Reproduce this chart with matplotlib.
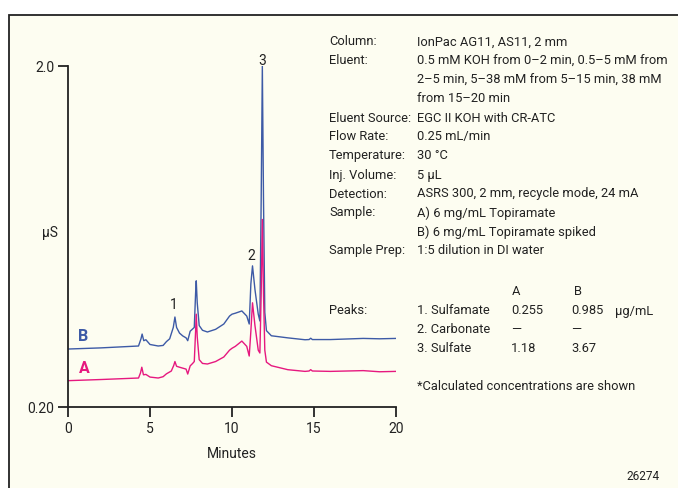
import matplotlib.pyplot as plt
from matplotlib.patches import Rectangle

# === Данные хроматограммы (минуты, мкСм) ===
t_b = [0, 2, 4.3, 4.45, 4.52, 4.62, 4.75, 5.0, 5.5, 5.8, 6.0, 6.2, 6.42, 6.52, 6.62,
       6.8, 7.0, 7.2, 7.3, 7.45, 7.6, 7.7, 7.78, 7.82, 7.88, 8.0, 8.2, 8.5, 9.0, 9.5,
       9.85, 10.0, 10.2, 10.6, 10.9, 11.05, 11.15, 11.25, 11.4, 11.6, 11.7, 11.78,
       11.85, 11.92, 12.0, 12.1, 12.4, 13.4, 14.45, 14.7, 14.8, 14.9, 16, 18, 19, 20]
y_b = [0.506, 0.512, 0.522, 0.56, 0.585, 0.55, 0.555, 0.530, 0.522, 0.525, 0.545, 0.56,
       0.62, 0.675, 0.62, 0.59, 0.575, 0.565, 0.55, 0.60, 0.612, 0.62, 0.80, 0.866, 0.75,
       0.63, 0.605, 0.596, 0.61, 0.638, 0.68, 0.69, 0.695, 0.707, 0.68, 0.638, 0.85,
       0.945, 0.82, 0.69, 0.654, 1.3, 2.0, 1.3, 0.70, 0.603, 0.576, 0.565, 0.555,
       0.556, 0.563, 0.556, 0.556, 0.562, 0.560, 0.562]

t_a = [0, 2, 4.3, 4.42, 4.5, 4.6, 4.75, 5.0, 5.5, 5.8, 6.0, 6.3, 6.45, 6.52, 6.62, 6.8,
       7.0, 7.2, 7.3, 7.45, 7.6, 7.7, 7.78, 7.82, 7.88, 8.0, 8.2, 8.5, 9.0, 9.5, 9.85,
       10.0, 10.2, 10.6, 10.9, 11.05, 11.15, 11.25, 11.4, 11.6, 11.7, 11.78, 11.85,
       11.92, 12.0, 12.1, 12.4, 13.4, 14.45, 14.7, 14.8, 14.9, 16, 18, 19, 20]
y_a = [0.339, 0.345, 0.353, 0.38, 0.41, 0.37, 0.372, 0.358, 0.353, 0.36, 0.375, 0.39,
       0.42, 0.44, 0.415, 0.41, 0.405, 0.40, 0.374, 0.417, 0.43, 0.44, 0.60, 0.69, 0.57,
       0.45, 0.43, 0.427, 0.44, 0.464, 0.50, 0.51, 0.52, 0.548, 0.52, 0.469, 0.60,
       0.75, 0.63, 0.50, 0.485, 0.80, 1.19, 0.80, 0.50, 0.437, 0.418, 0.397, 0.388,
       0.39, 0.397, 0.39, 0.388, 0.392, 0.386, 0.388]

peak_labels = ['1', '2', '3']
peak_x = [6.46, 11.16, 11.83]
peak_y = [0.744, 1.00, 2.03]

cond_labels = ['Column:', 'Eluent:', '', '', 'Eluent Source:', 'Flow Rate:', 'Temperature:',
               'Inj. Volume:', 'Detection:', 'Sample:', '', 'Sample Prep:']
cond_values = ['IonPac AG11, AS11, 2 mm',
               '0.5 mM KOH from 0\u20132 min, 0.5\u20135 mM from',
               '2\u20135 min, 5\u201338 mM from 5\u201315 min, 38 mM',
               'from 15\u201320 min',
               'EGC II KOH with CR-ATC',
               '0.25 mL/min',
               '30 \u00b0C',
               '5 \u00b5L',
               'ASRS 300, 2 mm, recycle mode, 24 mA',
               'A) 6 mg/mL Topiramate',
               'B) 6 mg/mL Topiramate spiked',
               '1:5 dilution in DI water']

peak_names = ['1. Sulfamate', '2. Carbonate', '3. Sulfate']
conc_a = ['0.255', '\u2014', '1.18']
conc_b = ['0.985', '\u2014', '3.67']

blue = '#3d5aa6'
pink = '#e6187f'
ink = '#222222'
W, H = 678, 489

plt.rcParams['font.family'] = ['Roboto', 'DejaVu Sans']
plt.rcParams['font.size'] = 9.3

fig = plt.figure(figsize=(W / 100, H / 100), dpi=100, facecolor='white')
# рамка с кремовым фоном
fig.add_artist(Rectangle((9 / W, -0.1), 1.2, 1.1 - 16 / H, transform=fig.transFigure,
                         facecolor='#fdfdf1', edgecolor=ink, linewidth=1.3, zorder=0))


def fx(px):
    return px / W


def fy(py):
    return 1 - py / H


ax = fig.add_axes([fx(68), fy(408), (396 - 68) / W, (408 - 67) / H])
ax.set_facecolor('none')
ax.plot(t_b, y_b, color=blue, lw=1.0)
ax.plot(t_a, y_a, color=pink, lw=1.0)
ax.set_xlim(0, 20)
ax.set_ylim(0.2, 2.0)
ax.set_xticks([0, 5, 10, 15, 20])
ax.set_yticks([0.2, 2.0])
ax.set_yticklabels(['0.20', '2.0'])
for s in ['top', 'right']:
    ax.spines[s].set_visible(False)
for s in ['left', 'bottom']:
    ax.spines[s].set_linewidth(1.3)
    ax.spines[s].set_color(ink)
ax.tick_params(direction='out', length=7, width=1.3, color=ink, labelcolor=ink,
               labelsize=10, pad=3)
ax.set_xlabel('Minutes', color=ink, fontsize=10, labelpad=8)

for lab, x, y in zip(peak_labels, peak_x, peak_y):
    ax.text(x, y, lab, ha='center', va='center', color=ink, fontsize=10, clip_on=False)
ax.text(0.9, 0.58, 'B', color=blue, fontweight='bold', fontsize=11.5, ha='center', va='center')
ax.text(0.98, 0.406, 'A', color=pink, fontweight='bold', fontsize=11.5, ha='center', va='center')

fig.text(fx(50), fy(233), '\u00b5S', ha='center', va='center', color=ink, fontsize=10)

# === Условия анализа ===
row_y = 42
for lab, val in zip(cond_labels, cond_values):
    fig.text(fx(329), fy(row_y), lab, va='center', color=ink)
    fig.text(fx(417), fy(row_y), val, va='center', color=ink)
    row_y += 19

fig.text(fx(516), fy(292), 'A', ha='center', va='center', color=ink)
fig.text(fx(578), fy(292), 'B', ha='center', va='center', color=ink)
fig.text(fx(329), fy(311), 'Peaks:', va='center', color=ink)
for i, name in enumerate(peak_names):
    yy = fy(311 + 19 * i)
    fig.text(fx(417), yy, name, va='center', color=ink)
    fig.text(fx(511), yy, conc_a[i], va='center', color=ink)
    fig.text(fx(571), yy, conc_b[i], va='center', color=ink)
fig.text(fx(615), fy(311), '\u00b5g/mL', va='center', color=ink)
fig.text(fx(417), fy(387), '*Calculated concentrations are shown', va='center', color=ink)
fig.text(fx(643), fy(477), '26274', ha='center', va='center', color=ink, fontsize=8.5)

fig.savefig('out.png', dpi=100, facecolor='white')
